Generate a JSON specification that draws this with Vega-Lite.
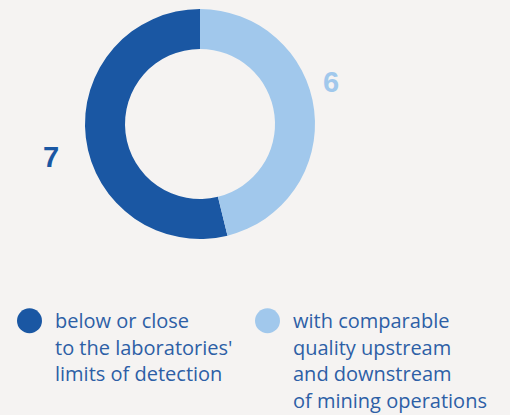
{
  "$schema": "https://vega.github.io/schema/vega-lite/v6.json",
  "width": 400,
  "height": 248,
  "autosize": {"type": "none"},
  "padding": {"left": 0, "top": 0, "right": 110, "bottom": 167},
  "background": "#f5f3f2",
  "config": {"view": {"stroke": null}},
  "data": {
    "values": [
      {"category": "below or close|to the laboratories'|limits of detection| ", "value": 7, "ord": 2},
      {"category": "with comparable|quality upstream|and downstream|of mining operations", "value": 6, "ord": 1}
    ]
  },
  "encoding": {
    "theta": {"field": "value", "type": "quantitative", "stack": true},
    "order": {"field": "ord", "type": "quantitative", "sort": "ascending"},
    "color": {
      "field": "category",
      "type": "nominal",
      "sort": ["below or close|to the laboratories'|limits of detection| ", "with comparable|quality upstream|and downstream|of mining operations"],
      "scale": {"domain": ["below or close|to the laboratories'|limits of detection| ", "with comparable|quality upstream|and downstream|of mining operations"], "range": ["#1a57a3", "#a1c8ec"]},
      "legend": {
        "title": null,
        "orient": "none",
        "legendX": 17,
        "legendY": 308,
        "direction": "horizontal",
        "columns": 2,
        "columnPadding": 22,
        "padding": 0,
        "symbolType": "circle",
        "symbolSize": 625,
        "symbolStrokeWidth": 0,
        "symbolOpacity": 1,
        "labelOffset": 13,
        "labelFont": "Open Sans",
        "labelFontSize": 20,
        "labelColor": "#2d5fa6",
        "labelLimit": 0,
        "labelBaseline": "top",
        "labelExpr": "split(datum.label, '|')",
        "encode": {"labels": {"update": {"lineHeight": {"value": 26.5}, "dy": {"value": -8.5}}}}
      }
    }
  },
  "layer": [
    {"mark": {"type": "arc", "outerRadius": 115, "innerRadius": 75}},
    {
      "mark": {"type": "text", "radius": 132, "dy": -25, "font": "Liberation Sans", "fontWeight": "bold", "fontSize": 29, "align": "center", "baseline": "middle"},
      "encoding": {"text": {"condition": {"test": "datum.value == 6", "field": "value", "type": "quantitative"}, "value": ""}}
    },
    {
      "mark": {"type": "text", "radius": 150, "dy": 16, "font": "Liberation Sans", "fontWeight": "bold", "fontSize": 29, "align": "center", "baseline": "middle"},
      "encoding": {"text": {"condition": {"test": "datum.value == 7", "field": "value", "type": "quantitative"}, "value": ""}}
    }
  ]
}
